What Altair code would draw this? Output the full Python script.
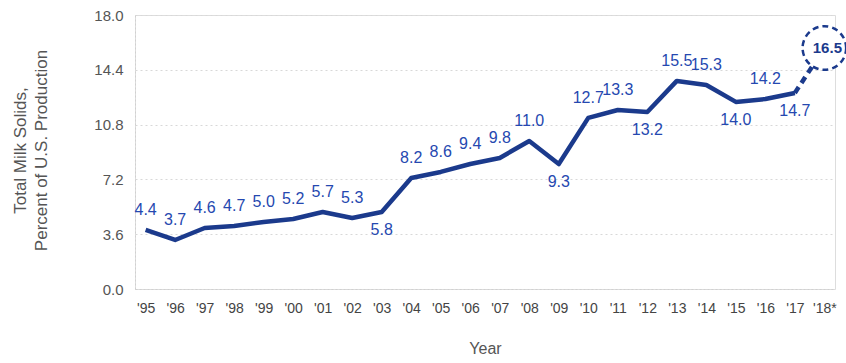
import altair as alt
import pandas as pd

years = ["'95", "'96", "'97", "'98", "'99", "'00", "'01", "'02", "'03", "'04", "'05", "'06",
         "'07", "'08", "'09", "'10", "'11", "'12", "'13", "'14", "'15", "'16", "'17", "'18*"]
# line heights as drawn in the reference (read against the printed axis)
line_values = [3.88, 3.22, 4.01, 4.14, 4.40, 4.60, 5.06, 4.66, 5.06, 7.29, 7.69, 8.21,
               8.61, 9.72, 8.21, 11.24, 11.76, 11.63, 13.67, 13.40, 12.29, 12.48, 12.88, 15.83]
# printed data labels
labels = ["4.4", "3.7", "4.6", "4.7", "5.0", "5.2", "5.7", "5.3", "5.8", "8.2", "8.6", "9.4",
          "9.8", "11.0", "9.3", "12.7", "13.3", "13.2", "15.5", "15.3", "14.0", "14.2", "14.7", "16.5"]
label_side = ["above", "above", "above", "above", "above", "above", "above", "above", "below",
              "above", "above", "above", "above", "above", "below", "above", "above", "below",
              "above", "above", "below", "above", "below", "circle"]
y_ticks = [0, 3.6, 7.2, 10.8, 14.4, 18.0]

df = pd.DataFrame({"year": years, "value": line_values, "label": labels, "side": label_side})
df["order"] = range(len(df))

solid = df.iloc[:-1]
dashed = df.iloc[-2:]

FONT = "Liberation Sans, Arial, sans-serif"
LINE = "#1b3a8c"
LAB = "#2548b0"

x = alt.X("year:O", sort=years, title="Year",
          scale=alt.Scale(type="point", padding=0.36),
          axis=alt.Axis(labelAngle=0, labelFontSize=14, labelColor="#444", labelFont=FONT,
                        labelPadding=12, ticks=False, domainColor="#d0d0d0", domainDash=[2, 2],
                        titleFontSize=16, titleFont=FONT, titleColor="#555",
                        titleFontWeight="normal", titleY=59, titleBaseline="middle"))
y = alt.Y("value:Q", title=["Total Milk Solids,", "Percent of U.S. Production"],
          scale=alt.Scale(domain=[0, 18], nice=False),
          axis=alt.Axis(values=y_ticks, format=".1f", labelFontSize=15, labelColor="#555",
                        labelFont=FONT, labelPadding=12, ticks=False,
                        domainColor="#d0d0d0", domainDash=[2, 2],
                        grid=True, gridColor="#d8d8d8", gridDash=[2, 3],
                        titleFontSize=17, titleFont=FONT, titleColor="#555",
                        titleFontWeight="normal", titleLineHeight=21,
                        titleX=-123, titleY=135, titleAngle=-90, titleBaseline="top",
                        titleAlign="center"))

base = alt.Chart(df)

line_solid = alt.Chart(solid).mark_line(color=LINE, strokeWidth=4.5, strokeJoin="round").encode(
    x=x, y=y, order="order:Q")
line_dash = alt.Chart(dashed).mark_line(color=LINE, strokeWidth=4.5, strokeDash=[7, 5]).encode(
    x=x, y=y, order="order:Q")

circle = base.transform_filter(alt.datum.side == "circle").mark_point(
    shape="circle", size=1900, filled=True, fill="white", stroke=LINE, strokeWidth=2.5,
    strokeDash=[6, 4], opacity=1).encode(x=x, y=y)

txt_kw = dict(font=FONT, fontSize=16, color=LAB, baseline="middle", align="center")
above = base.transform_filter(alt.datum.side == "above").mark_text(dy=-20, **txt_kw).encode(
    x=x, y=y, text="label:N")
below = base.transform_filter(alt.datum.side == "below").mark_text(dy=18, **txt_kw).encode(
    x=x, y=y, text="label:N")
circ_txt = base.transform_filter(alt.datum.side == "circle").mark_text(
    dx=3, fontWeight="bold", font=FONT, fontSize=15, color=LINE, baseline="middle",
    align="center").encode(x=x, y=y, text="label:N")

chart = alt.layer(line_solid, line_dash, circle, above, below, circ_txt).properties(
    width=700, height=274,
    autosize=alt.AutoSizeParams(type="none"),
    padding={"left": 135, "top": 15, "right": 11, "bottom": 74},
).configure_view(stroke=None).configure(background="white")

chart.save("out.html", embed_options={"renderer": "svg", "actions": False})
